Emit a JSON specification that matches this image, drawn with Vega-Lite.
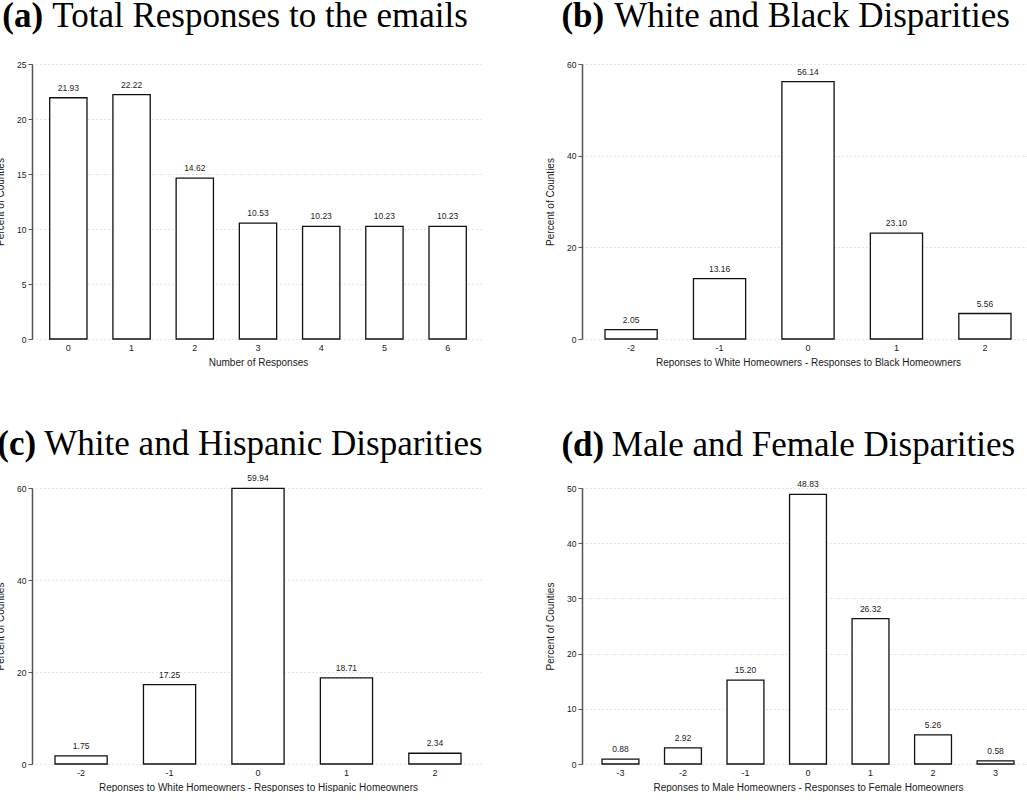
{
  "$schema": "https://vega.github.io/schema/vega-lite/v6.json",
  "padding": {"left": -5, "top": -1, "right": 0, "bottom": 0},
  "background": "white",
  "datasets": {
    "a": [
      {"k": 0, "pct": 21.93}, {"k": 1, "pct": 22.22}, {"k": 2, "pct": 14.62},
      {"k": 3, "pct": 10.53}, {"k": 4, "pct": 10.23}, {"k": 5, "pct": 10.23}, {"k": 6, "pct": 10.23}
    ],
    "b": [
      {"k": -2, "pct": 2.05}, {"k": -1, "pct": 13.16}, {"k": 0, "pct": 56.14},
      {"k": 1, "pct": 23.10}, {"k": 2, "pct": 5.56}
    ],
    "c": [
      {"k": -2, "pct": 1.75}, {"k": -1, "pct": 17.25}, {"k": 0, "pct": 59.94},
      {"k": 1, "pct": 18.71}, {"k": 2, "pct": 2.34}
    ],
    "d": [
      {"k": -3, "pct": 0.88}, {"k": -2, "pct": 2.92}, {"k": -1, "pct": 15.20},
      {"k": 0, "pct": 48.83}, {"k": 1, "pct": 26.32}, {"k": 2, "pct": 5.26}, {"k": 3, "pct": 0.58}
    ]
  },
  "columns": 2,
  "spacing": {"row": 60, "column": 61},
  "concat": [
    {
      "title": {"text": "(a)", "fontWeight": "bold", "anchor": "middle", "dx": -217, "offset": -35},
      "vconcat": [{
        "title": {"text": "Total Responses to the emails", "anchor": "middle", "dx": 2, "offset": 26},
        "width": 452, "height": 275,
        "data": {"name": "a"},
        "encoding": {
          "x": {"field": "k", "type": "ordinal", "title": "Number of Responses", "scale": {"paddingInner": 0.41, "paddingOuter": 0.28}},
          "y": {"field": "pct", "type": "quantitative", "title": "Percent of Counties", "scale": {"domain": [0, 25], "nice": false}, "axis": {"values": [0, 5, 10, 15, 20, 25]}}
        },
        "layer": [
          {"mark": {"type": "bar", "fill": "white", "stroke": "#111111", "strokeWidth": 1.3}},
          {"mark": {"type": "text", "baseline": "bottom", "dy": -5, "fontSize": 8.5, "font": "Liberation Sans", "color": "#222222"},
           "encoding": {"text": {"field": "pct", "type": "quantitative", "format": ".2f"}}}
        ]
      }]
    },
    {
      "title": {"text": "(b)", "fontWeight": "bold", "anchor": "middle", "dx": -207, "offset": -35},
      "vconcat": [{
        "title": {"text": "White and Black Disparities", "anchor": "middle", "dx": 4, "offset": 26},
        "width": 452, "height": 275,
        "data": {"name": "b"},
        "encoding": {
          "x": {"field": "k", "type": "ordinal", "title": "Reponses to White Homeowners - Responses to Black Homeowners", "scale": {"paddingInner": 0.41, "paddingOuter": 0.26}},
          "y": {"field": "pct", "type": "quantitative", "title": "Percent of Counties", "scale": {"domain": [0, 60], "nice": false}, "axis": {"values": [0, 20, 40, 60]}}
        },
        "layer": [
          {"mark": {"type": "bar", "fill": "white", "stroke": "#111111", "strokeWidth": 1.3}},
          {"mark": {"type": "text", "baseline": "bottom", "dy": -5, "fontSize": 8.5, "font": "Liberation Sans", "color": "#222222"},
           "encoding": {"text": {"field": "pct", "type": "quantitative", "format": ".2f"}}}
        ]
      }]
    },
    {
      "title": {"text": "(c)", "fontWeight": "bold", "anchor": "middle", "dx": -223, "offset": -35},
      "vconcat": [{
        "title": {"text": "White and Hispanic Disparities", "anchor": "middle", "dx": 5.5, "offset": 12},
        "width": 452, "height": 276,
        "data": {"name": "c"},
        "encoding": {
          "x": {"field": "k", "type": "ordinal", "title": "Reponses to White Homeowners - Responses to Hispanic Homeowners", "scale": {"paddingInner": 0.41, "paddingOuter": 0.26}},
          "y": {"field": "pct", "type": "quantitative", "title": "Percent of Counties", "scale": {"domain": [0, 60], "nice": false}, "axis": {"values": [0, 20, 40, 60]}}
        },
        "layer": [
          {"mark": {"type": "bar", "fill": "white", "stroke": "#111111", "strokeWidth": 1.3}},
          {"mark": {"type": "text", "baseline": "bottom", "dy": -5, "fontSize": 8.5, "font": "Liberation Sans", "color": "#222222"},
           "encoding": {"text": {"field": "pct", "type": "quantitative", "format": ".2f"}}}
        ]
      }]
    },
    {
      "title": {"text": "(d)", "fontWeight": "bold", "anchor": "middle", "dx": -207, "offset": -35},
      "vconcat": [{
        "title": {"text": "Male and Female Disparities", "anchor": "middle", "dx": 5.5, "offset": 17},
        "width": 452, "height": 276,
        "data": {"name": "d"},
        "encoding": {
          "x": {"field": "k", "type": "ordinal", "title": "Reponses to Male Homeowners - Responses to Female Homeowners", "scale": {"paddingInner": 0.41, "paddingOuter": 0.32}},
          "y": {"field": "pct", "type": "quantitative", "title": "Percent of Counties", "scale": {"domain": [0, 50], "nice": false}, "axis": {"values": [0, 10, 20, 30, 40, 50]}}
        },
        "layer": [
          {"mark": {"type": "bar", "fill": "white", "stroke": "#111111", "strokeWidth": 1.3}},
          {"mark": {"type": "text", "baseline": "bottom", "dy": -5, "fontSize": 8.5, "font": "Liberation Sans", "color": "#222222"},
           "encoding": {"text": {"field": "pct", "type": "quantitative", "format": ".2f"}}}
        ]
      }]
    }
  ],
  "config": {
    "view": {"stroke": null},
    "axis": {
      "labelFont": "Liberation Sans",
      "labelFontSize": 8.5,
      "labelColor": "#1a1a1a",
      "titleFont": "Liberation Sans",
      "titleFontSize": 10,
      "titleFontWeight": "normal",
      "titleColor": "#1a1a1a"
    },
    "axisY": {
      "domainColor": "#555555",
      "domainWidth": 1.5,
      "tickColor": "#555555",
      "tickSize": 4,
      "tickWidth": 1,
      "gridColor": "#c8c8c8",
      "gridDash": [1, 3],
      "labelPadding": 2,
      "titlePadding": 11
    },
    "axisX": {
      "domain": false,
      "ticks": false,
      "grid": false,
      "labelAngle": 0,
      "labelFontSize": 9,
      "labelPadding": 4,
      "titlePadding": 5
    },
    "title": {
      "font": "Liberation Serif",
      "fontSize": 35,
      "fontWeight": "normal",
      "color": "#000000"
    }
  }
}
